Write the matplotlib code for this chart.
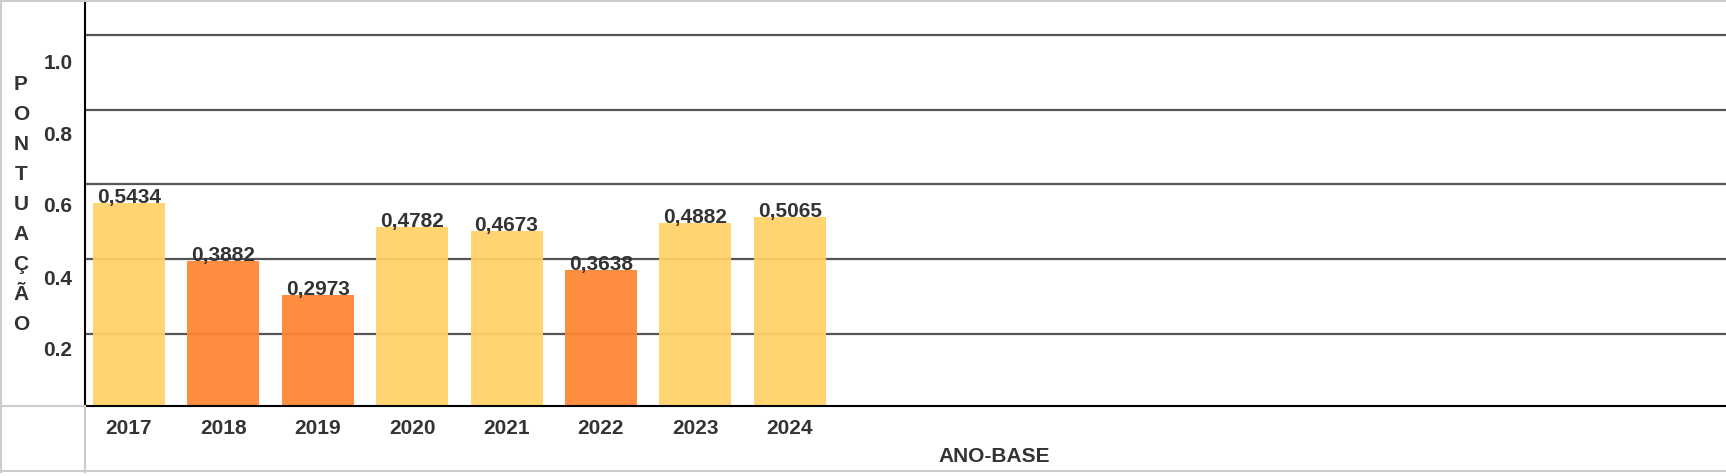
import numpy as np
import matplotlib.pyplot as plt
from matplotlib.lines import Line2D

plt.rcParams['font.family'] = ['Liberation Sans', 'DejaVu Sans']

anos = ['2017', '2018', '2019', '2020', '2021', '2022', '2023', '2024']
pontuacao = [0.5434, 0.3882, 0.2973, 0.4782, 0.4673, 0.3638, 0.4882, 0.5065]
destaque = [False, True, True, False, False, True, False, False]  # laranja

grade = [0.2, 0.4, 0.6, 0.8, 1.0]
rotulos_y = ['0.2', '0.4', '0.6', '0.8', '1.0']
pos_rotulos_y = [0.153, 0.345, 0.540, 0.730, 0.922]

AMARELO = '#FFD166'
LARANJA = '#FF8431'
TEXTO = '#333333'
FS = 15

W, H = 1726, 476
fig = plt.figure(figsize=(W / 100, H / 100), dpi=100)

# eixo principal: x 85..1726 px, y 0..406 px
ax = fig.add_axes([85 / W, (H - 406) / H, 1 - 85 / W, 406 / H])
x = np.arange(len(anos))
cores = [LARANJA if d else AMARELO for d in destaque]

for g in grade:
    ax.axhline(g - 0.007, color='#555555', lw=1.6, zorder=1)
ax.bar(x, pontuacao, width=0.763, color=cores, alpha=0.93, zorder=2)

for xi, v in zip(x, pontuacao):
    ax.text(xi, v, ('%.4f' % v).replace('.', ','), ha='center', va='baseline',
            fontsize=FS, fontweight='bold', color=TEXTO, zorder=3)

ax.set_xlim(-0.466, 16.92)
ax.set_ylim(0, 1.086)
ax.set_xticks(x)
ax.set_xticklabels(anos, fontsize=FS, fontweight='bold', color=TEXTO)
ax.set_yticks(pos_rotulos_y)
ax.set_yticklabels(rotulos_y, fontsize=FS, fontweight='bold', color=TEXTO)
ax.tick_params(axis='both', length=0)
ax.tick_params(axis='y', pad=9)
ax.tick_params(axis='x', pad=9)
for s in ['top', 'right']:
    ax.spines[s].set_visible(False)
ax.spines['left'].set_color('black')
ax.spines['bottom'].set_color('black')
ax.spines['left'].set_linewidth(1.5)
ax.spines['bottom'].set_linewidth(1.5)

# titulo vertical letra por letra
titulo = 'PONTUAÇÃO'
for i, c in enumerate(titulo):
    fig.text(21 / W, 1 - (84 + 30 * i) / H, c, ha='center', va='center',
             fontsize=FS, fontweight='bold', color=TEXTO)

fig.text(994 / W, 1 - 456 / H, 'ANO-BASE', ha='center', va='center',
         fontsize=FS, fontweight='bold', color=TEXTO)

# bordas cinza da tabela
cinza = '#cccccc'
def linha(x0, y0, x1, y1):
    fig.add_artist(Line2D([x0 / W, x1 / W], [1 - y0 / H, 1 - y1 / H],
                          transform=fig.transFigure, color=cinza, lw=1.5))
linha(0, 1, W, 1)
linha(1, 0, 1, 472)
linha(0, 471, W, 471)
linha(0, 406, 85, 406)
linha(85, 406, 85, 472)

fig.savefig('out.png', dpi=100)
